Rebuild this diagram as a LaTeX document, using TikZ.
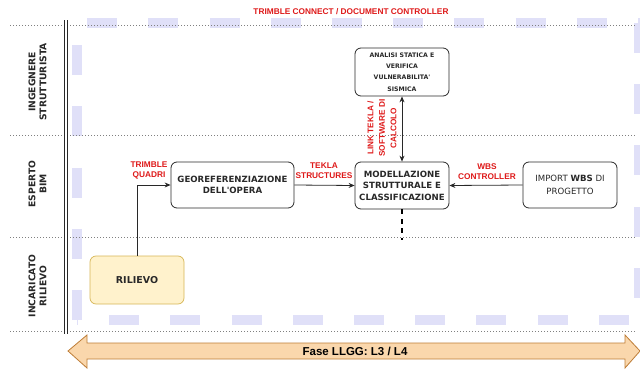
\documentclass[tikz,border=0pt]{standalone}
\usepackage{fontspec}
\setmainfont{Liberation Sans}
\newfontfamily\vfont{DejaVu Sans}
\usetikzlibrary{arrows.meta}
\definecolor{lav}{RGB}{224,224,248}
\definecolor{lbl}{RGB}{222,25,25}
\definecolor{ink}{RGB}{40,40,40}
\definecolor{relfill}{RGB}{255,242,204}
\definecolor{relline}{RGB}{214,182,86}
\definecolor{fasefill}{RGB}{250,215,172}
\definecolor{faseline}{RGB}{190,125,55}
\begin{document}
\begin{tikzpicture}[x=1pt,y=-1pt,
  box/.style={draw=ink, line width=0.8pt, rounded corners=6pt, minimum width=94pt,
    minimum height=47pt, align=center, inner sep=0pt, text=ink},
  boxfont/.style={font=\vfont\bfseries\fontsize{8.6}{11.5}\selectfont},
  tag/.style={text=lbl, font=\bfseries\fontsize{8.3}{10}\selectfont, align=center, inner sep=0pt},
  lane/.style={rotate=90, font=\vfont\bfseries\fontsize{9.2}{11}\selectfont, align=center,
    text=ink, inner sep=0pt},
  sep/.style={draw=gray, line width=0.7pt, dash pattern=on 1.4pt off 1.6pt},
  arr/.style={draw=ink, line width=0.8pt, -{Stealth[length=6pt,width=5pt]}},
  band/.style={draw=lav, line width=10pt, dash pattern=on 30pt off 31.2pt}
]
\useasboundingbox (0,0) rectangle (640,372);

% shared-environment frame (dashed lavender band)
\draw[band, dash phase=51pt] (77,23) -- (644,23);
\draw[band, dash phase=0pt] (639,23) -- (639,320);
\draw[band, dash phase=29pt] (77,320) -- (644,320);
\draw[band, dash phase=39pt] (77,23) -- (77,320);

% lane separators
\foreach \yy in {25,135,237,331} \draw[sep] (10,\yy) -- (635,\yy);
\draw[ink, line width=0.7pt] (64,20) -- (64,334);
\draw[ink, line width=0.7pt] (67,20) -- (67,334);

% lane titles
\node[lane] (l1) at (37.5,82) {INGEGNERE\\STRUTTURISTA};
\node[lane] (l2) at (37.5,184) {ESPERTO\\BIM};
\node[lane] (l3) at (37.5,286) {INCARICATO\\RILIEVO};

\node[tag] (cde) at (351,12) {TRIMBLE CONNECT / DOCUMENT CONTROLLER};

% activities
\node[box, minimum height=48pt, font=\vfont\bfseries\fontsize{6.2}{11.3}\selectfont]
  (ana) at (402,72) {ANALISI STATICA E\\VERIFICA\\VULNERABILITA'\\SISMICA};
\node[box, boxfont] (mod) at (402,185.5) {MODELLAZIONE\\STRUTTURALE E\\CLASSIFICAZIONE};
\node[box, boxfont, minimum width=123pt, minimum height=46pt] (geo) at (232.5,185)
  {GEOREFERENZIAZIONE\\DELL'OPERA};
\node[box, minimum height=46pt, font=\vfont\fontsize{8.6}{12.5}\selectfont] (wbs) at (570,185)
  {IMPORT \textbf{WBS} DI\\PROGETTO};
\node[box, draw=relline, fill=relfill, line width=0.7pt, minimum height=48pt,
  font=\vfont\bfseries\fontsize{9.5}{11}\selectfont] (ril) at (137,280) {RILIEVO};

% flows
\draw[arr] (ril.north) |- (geo.west);
\draw[arr] (geo.east) -- (mod.west);
\draw[arr] (wbs.west) -- (mod.east);
\draw[arr, {Stealth[length=6pt,width=5pt]}-{Stealth[length=6pt,width=5pt]}] (ana.south) -- (mod.north);
\coordinate (modend) at (402,240);
\draw[black, line width=2pt, dash pattern=on 5pt off 4.5pt] (mod.south) -- (modend);

% flow labels
\node[tag] (t1) at (149,170) {TRIMBLE\\QUADRI};
\node[tag] (t2) at (324,171) {TEKLA\\STRUCTURES};
\node[tag] (t3) at (487,172) {WBS\\CONTROLLER};
\node[tag, rotate=90, font=\bfseries\fontsize{8.2}{11.5}\selectfont] (t4) at (382,128)
  {LINK TEKLA /\\SOFTWARE DI\\CALCOLO};

% phase arrow
\draw[fill=fasefill, draw=faseline, line width=0.8pt]
  (68,351) -- (87,335) -- (87,343) -- (625,343) -- (625,335) -- (640,351)
  -- (625,368) -- (625,359) -- (87,359) -- (87,368) -- cycle;
\node[font=\bfseries\fontsize{11.5}{13}\selectfont, text=black] (fase) at (355,351)
  {Fase LLGG: L3 / L4};
\end{tikzpicture}
\end{document}
